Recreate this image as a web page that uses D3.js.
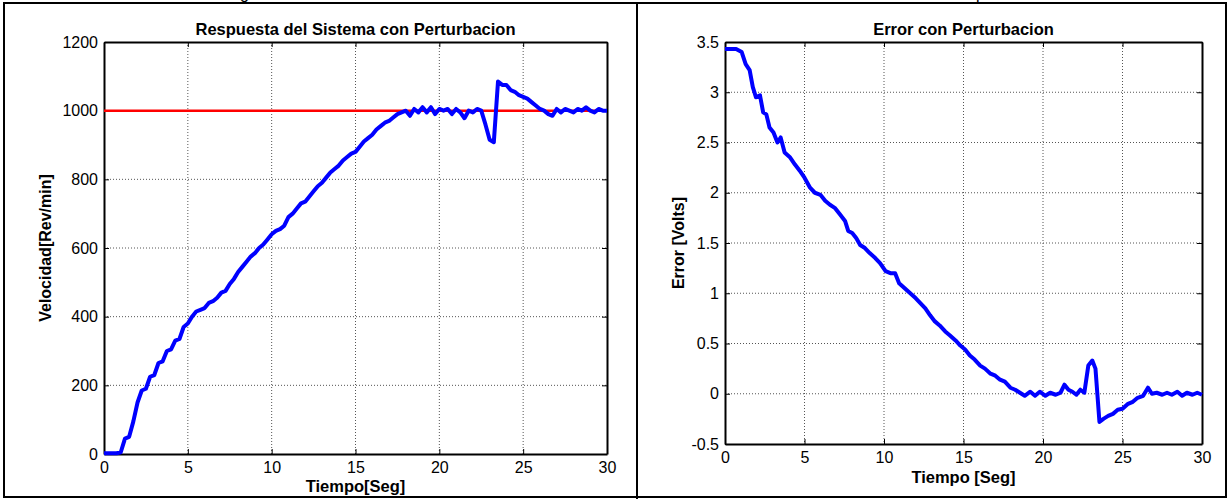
<!DOCTYPE html>
<html>
<head>
<meta charset="utf-8">
<script src="https://cdn.jsdelivr.net/npm/d3@7"></script>
<style>
body{margin:0;background:#fff;}
svg{display:block;font-family:"Liberation Sans",Arial,sans-serif;}
.grid line{stroke:#555;stroke-width:1;stroke-dasharray:1,2;}
</style>
</head>
<body>
<script>
// ---- data ----
var velTime = [0,0.25,0.5,0.75,1,1.25,1.5,1.75,2,2.25,2.5,2.75,3,3.25,3.5,3.75,4,4.25,4.5,4.75,
  5,5.25,5.5,5.75,6,6.25,6.5,6.75,7,7.25,7.5,7.75,8,8.25,8.5,8.75,9,9.25,9.5,9.75,
  10,10.25,10.5,10.75,11,11.25,11.5,11.75,12,12.25,12.5,12.75,13,13.25,13.5,13.75,14,14.25,14.5,14.75,
  15,15.25,15.5,15.75,16,16.25,16.5,16.75,17,17.25,17.5,17.75,18,18.25,18.5,18.75,19,19.25,19.5,19.75,
  20,20.25,20.5,20.75,21,21.25,21.5,21.75,22,22.25,22.5,22.75,23,23.25,23.5,23.75,24,24.25,24.5,24.75,
  25,25.25,25.5,25.75,26,26.25,26.5,26.75,27,27.25,27.5,27.75,28,28.25,28.5,28.75,29,29.25,29.5,29.75,30];
var velValue = [2,2,2,2,5,45,50,95,150,185,190,225,230,265,270,300,305,330,335,370,
  380,400,415,420,425,440,445,455,470,475,495,510,530,545,560,575,585,600,610,625,
  640,650,655,665,690,700,715,730,735,750,765,780,790,805,820,830,840,855,865,875,
  880,895,910,920,930,945,955,965,970,980,990,995,1000,985,1005,995,1010,995,1010,990,
  1005,1000,1005,990,1005,995,978,1000,995,1005,1000,960,915,908,1085,1075,1075,1060,1055,1045,
  1040,1035,1025,1015,1005,1000,990,985,1005,995,1005,1000,995,1005,1000,1010,1000,995,1005,1000,1000];
var velRef = 1000;

var errTime = [0,0.7,1.05,1.3,1.55,1.75,1.95,2.2,2.4,2.6,2.8,3.05,3.3,3.5,3.75,4.1,4.4,4.7,5,5.35,
  5.65,6,6.3,6.6,6.9,7.25,7.55,7.75,8,8.25,8.5,8.8,9.1,9.45,9.75,10.1,10.4,10.7,10.95,11.3,
  11.65,12,12.3,12.6,12.9,13.2,13.5,13.85,14.15,14.5,14.8,15.1,15.4,15.7,16.05,16.35,16.7,17,17.3,17.6,
  17.95,18.25,18.55,18.85,19.2,19.5,19.8,20.15,20.45,20.8,21.1,21.35,21.6,21.85,22.1,22.35,22.6,22.85,23.1,23.3,
  23.55,23.8,24.1,24.4,24.7,25,25.35,25.65,25.95,26.3,26.6,26.85,27.15,27.5,27.8,28.1,28.45,28.75,29.05,29.4,29.7,30];
var errValue = [3.43,3.43,3.40,3.28,3.22,3.05,2.95,2.97,2.80,2.78,2.65,2.60,2.50,2.55,2.40,2.35,2.28,2.22,2.15,2.05,
  2.00,1.98,1.92,1.88,1.85,1.78,1.72,1.62,1.60,1.55,1.48,1.45,1.40,1.35,1.30,1.22,1.20,1.20,1.10,1.05,
  1.00,0.95,0.90,0.85,0.78,0.72,0.68,0.62,0.58,0.53,0.48,0.44,0.38,0.34,0.28,0.25,0.20,0.18,0.14,0.12,
  0.06,0.04,0.01,-0.02,0.02,-0.02,0.02,-0.02,0.01,-0.01,0.01,0.09,0.04,0.02,-0.01,0.04,0.01,0.28,0.33,0.25,
  -0.28,-0.25,-0.22,-0.20,-0.16,-0.15,-0.10,-0.08,-0.04,-0.02,0.06,0.00,0.01,-0.01,0.01,-0.01,0.02,-0.02,0.01,-0.01,0.01,-0.01];

var timeTicks = [0,5,10,15,20,25,30];
var velTicks = [0,200,400,600,800,1000,1200];
var errTicks = [-0.5,0,0.5,1,1.5,2,2.5,3,3.5];

var W = 1228, H = 499;
var svg = d3.select("body").append("svg")
  .attr("width", W).attr("height", H);

// frame of the document table
svg.append("rect").attr("x",4).attr("y",3).attr("width",1222).attr("height",494)
  .attr("fill","none").attr("stroke","#000").attr("stroke-width",2);
svg.append("line").attr("x1",637).attr("x2",637).attr("y1",3).attr("y2",499)
  .attr("stroke","#000").attr("stroke-width",2);
// caption above the table, only its descenders are on the page
svg.append("text").attr("x",240).attr("y",-1).attr("font-size",16).text("g");
svg.append("text").attr("x",976).attr("y",-1).attr("font-size",16).text("p");

function panel(cfg){
  var x = d3.scaleLinear().domain([0,30]).range([cfg.left, cfg.right]);
  var y = d3.scaleLinear().domain(cfg.yDomain).range([cfg.bottom, cfg.top]);
  var g = svg.append("g");

  // dotted grid
  var grid = g.append("g").attr("class","grid");
  grid.selectAll(".gx").data(timeTicks.slice(1,-1)).enter().append("line")
    .attr("x1",function(d){return x(d);}).attr("x2",function(d){return x(d);})
    .attr("y1",cfg.top).attr("y2",cfg.bottom);
  grid.selectAll(".gy").data(cfg.yTicks.slice(1,-1)).enter().append("line")
    .attr("x1",cfg.left).attr("x2",cfg.right)
    .attr("y1",function(d){return y(d);}).attr("y2",function(d){return y(d);});

  // axes, ticks pointing inward like matlab
  var fmt = function(d){return String(d);};
  g.append("g").attr("transform","translate(0,"+cfg.bottom+")")
    .call(d3.axisBottom(x).tickValues(timeTicks).tickSize(-5).tickSizeOuter(0).tickPadding(8).tickFormat(fmt));
  g.append("g").attr("transform","translate(0,"+cfg.top+")")
    .call(d3.axisTop(x).tickValues(timeTicks).tickSize(-5).tickSizeOuter(0).tickFormat(""));
  g.append("g").attr("transform","translate("+cfg.left+",0)")
    .call(d3.axisLeft(y).tickValues(cfg.yTicks).tickSize(-5).tickSizeOuter(0).tickPadding(6).tickFormat(fmt));
  g.append("g").attr("transform","translate("+cfg.right+",0)")
    .call(d3.axisRight(y).tickValues(cfg.yTicks).tickSize(-5).tickSizeOuter(0).tickFormat(""));
  g.selectAll(".domain").attr("stroke","#000").attr("stroke-width",2);
  g.selectAll(".tick line").attr("stroke","#000").attr("stroke-width",1);
  g.selectAll(".tick text").attr("font-size",16).attr("font-family","Liberation Sans, Arial, sans-serif").attr("fill","#000");

  if (cfg.ref !== undefined) {
    g.append("line").attr("x1",x(0)).attr("x2",x(30))
      .attr("y1",y(cfg.ref)).attr("y2",y(cfg.ref))
      .attr("stroke","#ff0000").attr("stroke-width",2.5);
  }

  var line = d3.line()
    .x(function(d,i){return x(cfg.t[i]);})
    .y(function(d){return y(d);});
  g.append("path").attr("d",line(cfg.v))
    .attr("fill","none").attr("stroke","#0000ff").attr("stroke-width",4)
    .attr("stroke-linejoin","round");

  var cx = (cfg.left+cfg.right)/2;
  g.append("text").attr("x",cx).attr("y",35).attr("text-anchor","middle")
    .attr("font-size",16.5).attr("font-weight","bold").text(cfg.title);
  g.append("text").attr("x",cx).attr("y",cfg.xlabY).attr("text-anchor","middle")
    .attr("font-size",16.5).attr("font-weight","bold").text(cfg.xlabel);
  g.append("text").attr("transform","translate("+cfg.ylabX+","+((cfg.top+cfg.bottom)/2)+") rotate(-90)")
    .attr("text-anchor","middle").attr("font-size",16).attr("font-weight","bold").text(cfg.ylabel);
}

panel({left:104, right:607, top:42, bottom:454, yDomain:[0,1200], yTicks:velTicks,
  t:velTime, v:velValue, ref:velRef,
  title:"Respuesta del Sistema con Perturbacion", xlabel:"Tiempo[Seg]", ylabel:"Velocidad[Rev/min]",
  xlabY:492, ylabX:51});

panel({left:725, right:1202, top:42, bottom:444, yDomain:[-0.5,3.5], yTicks:errTicks,
  t:errTime, v:errValue,
  title:"Error con Perturbacion", xlabel:"Tiempo [Seg]", ylabel:"Error [Volts]",
  xlabY:483, ylabX:684});
</script>
</body>
</html>
